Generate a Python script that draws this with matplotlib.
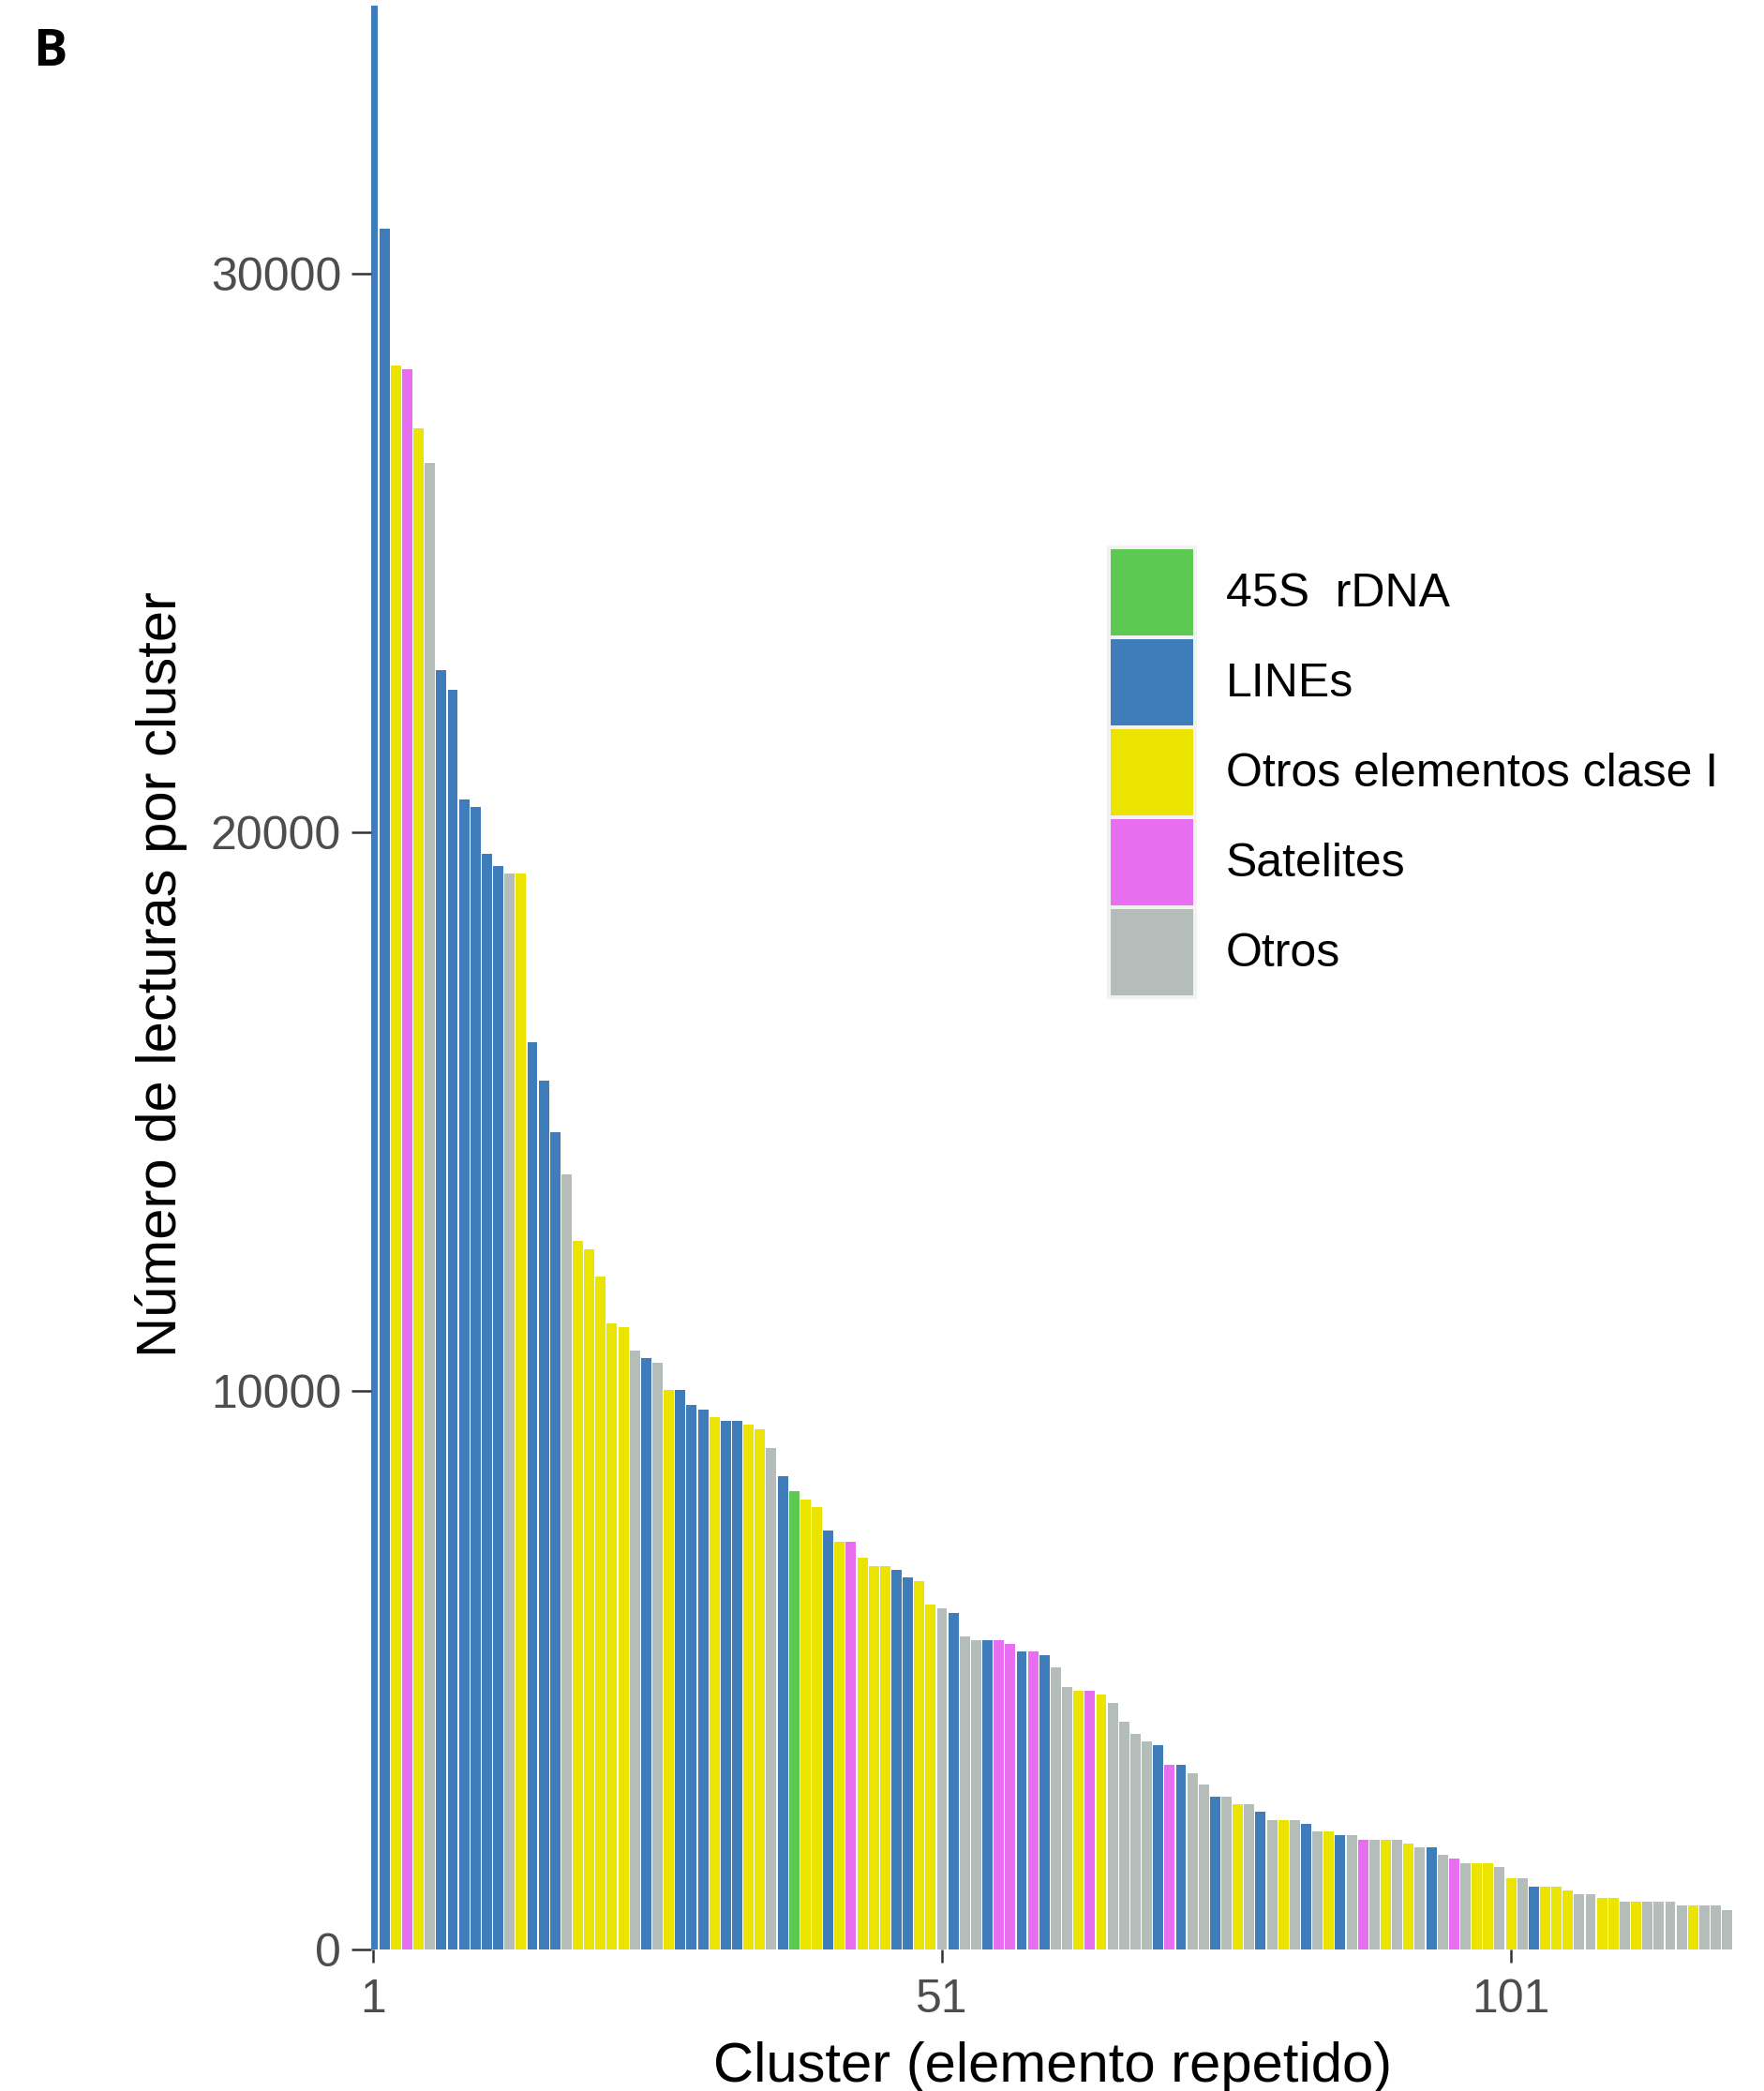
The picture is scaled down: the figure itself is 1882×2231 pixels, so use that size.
import matplotlib.pyplot as plt
from matplotlib.patches import Patch

# categories of repeated element and their colours
categories = ["45S  rDNA", "LINEs", "Otros elementos clase I", "Satelites", "Otros"]
cat_colors = ["#5CC952", "#3F7CBA", "#EBE300", "#E86EF0", "#B5BDBA"]
codes = {"R": 0, "L": 1, "Y": 2, "S": 3, "O": 4}

# type of each cluster (1..120)
cluster_type = (
    "LLYSYOLLLL"
    "LLOYLLLOYY"
    "YYYOLOYLLL"
    "YLLYYOLRYY"
    "LYSYYYLLYY"
    "OLOOLSSLSL"
    "OOYSYOOOOL"
    "SLOOLOYOLO"
    "YOLOYLOSOY"
    "OYOLOSOYYO"
    "YOLYYYOOYY"
    "OYOOOOYOOO"
)

# reads per cluster
reads = [
    34800, 30800, 28350, 28290, 27230, 26610, 22910, 22550, 20590, 20450,
    19610, 19400, 19260, 19260, 16240, 15550, 14630, 13870, 12680, 12530,
    12040, 11210, 11140, 10720, 10590, 10500, 10020, 10020, 9750, 9660,
    9530, 9460, 9460, 9390, 9310, 8980, 8480, 8210, 8050, 7920,
    7500, 7300, 7300, 7010, 6860, 6860, 6790, 6660, 6600, 6170,
    6110, 6020, 5600, 5540, 5540, 5540, 5470, 5340, 5340, 5270,
    5050, 4700, 4630, 4630, 4560, 4410, 4080, 3860, 3730, 3660,
    3310, 3310, 3150, 2950, 2740, 2740, 2600, 2600, 2470, 2320,
    2320, 2320, 2250, 2110, 2110, 2050, 2050, 1960, 1960, 1960,
    1960, 1900, 1830, 1830, 1700, 1630, 1540, 1540, 1540, 1480,
    1280, 1280, 1120, 1120, 1120, 1060, 990, 990, 920, 920,
    860, 860, 860, 860, 860, 790, 790, 790, 790, 710,
]
clusters = list(range(1, len(reads) + 1))
x_ticks = [1, 51, 101]

W, H = 1882, 2231
fig = plt.figure(figsize=(W / 100, H / 100), dpi=100)
ax = fig.add_axes([396 / W, 151 / H, 1454 / W, 2080 / H])

bar_colors = [cat_colors[codes[c]] for c in cluster_type]
ax.bar(clusters, reads, width=0.9, color=bar_colors, linewidth=0)

ax.set_xlim(0.835, 120.6)
ax.set_ylim(0, 34900)
ax.set_xticks(x_ticks)
ax.set_yticks([0, 10000, 20000, 30000])
for s in ax.spines.values():
    s.set_visible(False)

font = "Liberation Sans"
ax.tick_params(axis="y", length=15, width=1.8, color="#333333", pad=8,
               labelsize=36, labelcolor="#4D4D4D")
ax.tick_params(axis="x", length=10, width=1.8, color="#333333", pad=12,
               labelsize=36, labelcolor="#4D4D4D")
for lab in ax.get_xticklabels() + ax.get_yticklabels():
    lab.set_family(font)

ax.set_ylabel("Número de lecturas por cluster", fontsize=43, family=font)
ax.yaxis.set_label_coords(-0.135, 0.5)
ax.set_xlabel("Cluster (elemento repetido)", fontsize=43, family=font, va="baseline")
ax.xaxis.set_label_coords(0.5, -0.0678)

handles = [Patch(facecolor=c, edgecolor="#F2F2F2", linewidth=2.9) for c in cat_colors]
fig.legend(handles, categories, loc="upper left",
           bbox_to_anchor=(1183 / W, 1 - 584 / H), frameon=False,
           borderpad=0, borderaxespad=0,
           handlelength=92 / 50, handleheight=2.577, labelspacing=0.0,
           handletextpad=0.66, prop={"family": font, "size": 36})

fig.text(35 / W, 1 - 29 / H, "B", ha="left", va="top", fontsize=39,
         fontweight="bold", family="Open Sans")

fig.savefig("out.png", dpi=100)
